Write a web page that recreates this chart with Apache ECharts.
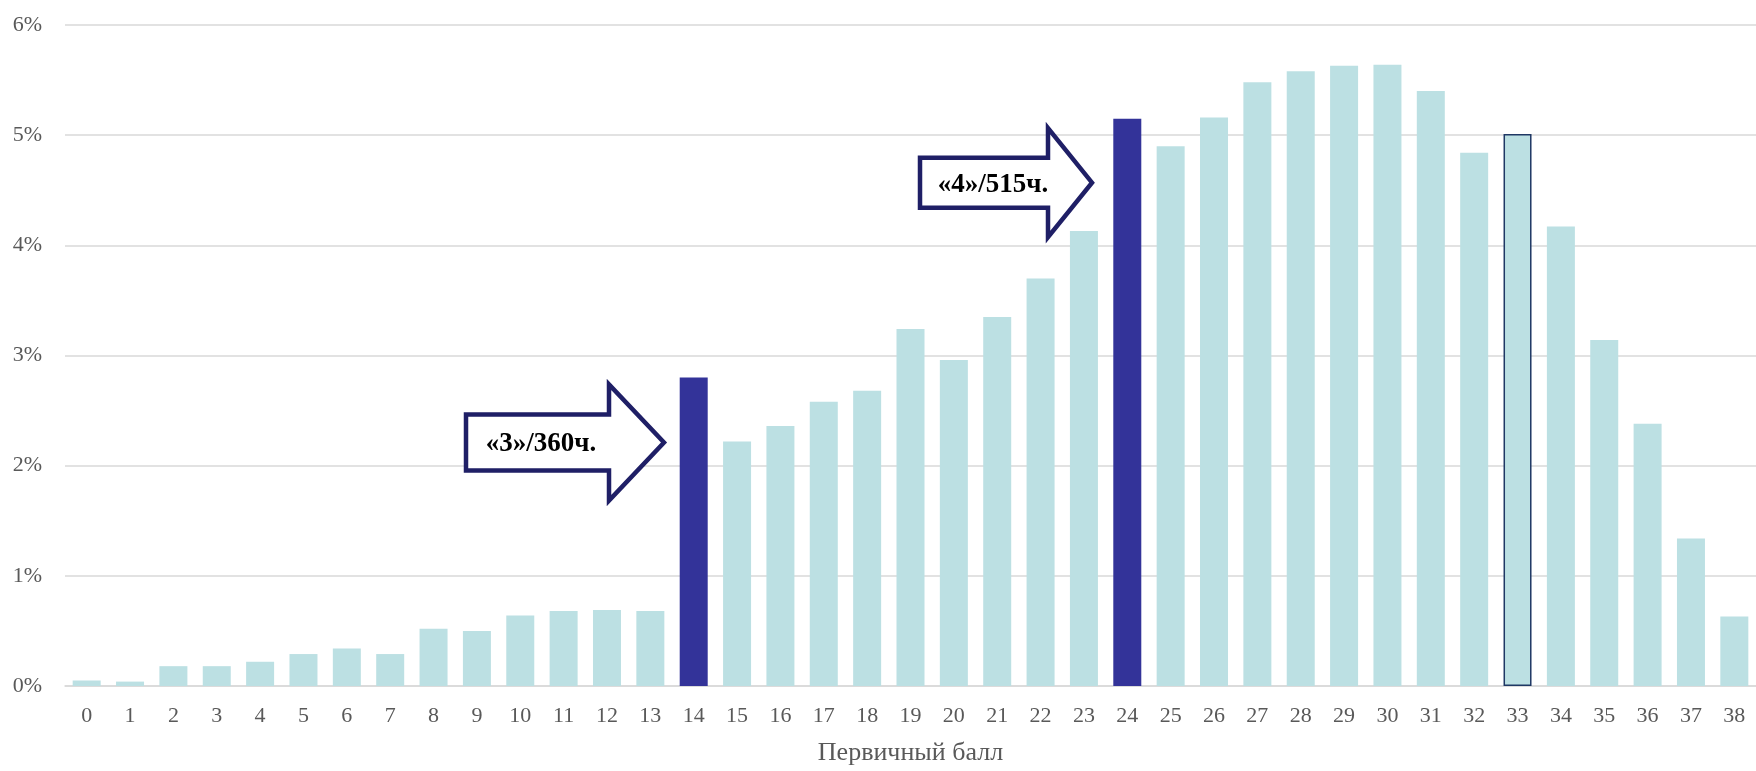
<!DOCTYPE html>
<html><head><meta charset="utf-8">
<script src="https://cdn.jsdelivr.net/npm/echarts@6/dist/echarts.min.js"></script>
<style>html,body{margin:0;padding:0;background:#fff}#c{width:1756px;height:771px}</style>
</head><body><div id="c"></div>
<script>
const categories = ['0','1','2','3','4','5','6','7','8','9','10','11','12','13','14','15','16','17','18','19','20','21','22','23','24','25','26','27','28','29','30','31','32','33','34','35','36','37','38'];
const shares = [0.05,0.04,0.18,0.18,0.22,0.29,0.34,0.29,0.52,0.50,0.64,0.68,0.69,0.68,2.80,2.22,2.36,2.58,2.68,3.24,2.96,3.35,3.70,4.13,5.15,4.90,5.16,5.48,5.58,5.63,5.64,5.40,4.84,5.01,4.17,3.14,2.38,1.34,0.63];
const thresholdScores = ['14','24'];
const outlinedScores = ['33'];
const yTicks = [0,1,2,3,4,5,6];
const arrowLabels = ['«3»/360ч.','«4»/515ч.'];
const xName = 'Первичный балл';

const FONT = "'Liberation Serif','Times New Roman',serif";
const chart = echarts.init(document.getElementById('c'), null, {renderer:'canvas'});

const data = shares.map((v,i)=>{
  const c = categories[i];
  if (thresholdScores.includes(c)) return {value:v, itemStyle:{color:'#333399'}};
  if (outlinedScores.includes(c)) return {value:v, itemStyle:{color:'#bce0e3', borderColor:'#1f3864', borderWidth:1.5}};
  return v;
});

function arrow(x0, xb, xt, yc, hb, hh, text, tx){
  return [
    {type:'polygon', z:100, shape:{points:[[x0,yc-hb],[xb,yc-hb],[xb,yc-hh],[xt,yc],[xb,yc+hh],[xb,yc+hb],[x0,yc+hb]]},
     style:{fill:'#ffffff', stroke:'#1f1f66', lineWidth:4.5, lineJoin:'miter'}},
    {type:'text', z:101, x:tx, y:yc+2, style:{text:text, font:"bold 27px "+FONT, fill:'#000', align:'center', verticalAlign:'middle'}}
  ];
}

chart.setOption({
  animation:false,
  backgroundColor:'#fff',
  grid:{left:65, right:0, top:25, bottom:81, containLabel:false},
  xAxis:{type:'category', data:categories,
    axisLine:{show:true, lineStyle:{color:'#d9d9d9', width:1.5}},
    axisTick:{show:false},
    axisLabel:{color:'#595959', fontFamily:FONT, fontSize:22, margin:19},
    name:xName, nameLocation:'middle', nameGap:54,
    nameTextStyle:{color:'#595959', fontFamily:FONT, fontSize:26}
  },
  yAxis:{type:'value', min:0, max:6, interval:1,
    axisLine:{show:false}, axisTick:{show:false},
    splitLine:{lineStyle:{color:'#d9d9d9', width:1.5}},
    axisLabel:{color:'#595959', fontFamily:FONT, fontSize:22, margin:23, formatter:v=>v+'%'}
  },
  series:[{type:'bar', data:data, barWidth:28, itemStyle:{color:'#bce0e3'}}],
  graphic:[
    ...arrow(466, 609, 664, 442.5, 28, 58, arrowLabels[0], 541),
    ...arrow(920, 1048, 1092, 182.7, 25, 54.5, arrowLabels[1], 993)
  ]
});
</script></body></html>
